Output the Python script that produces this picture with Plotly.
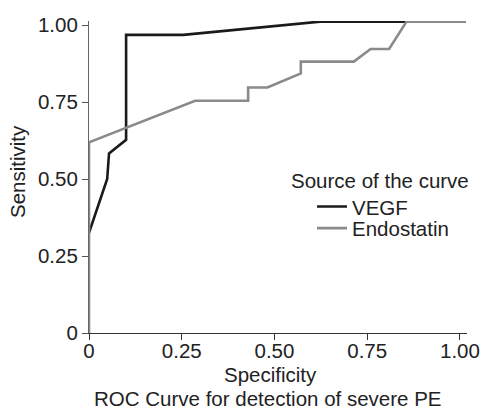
import plotly.graph_objects as go

# 1 - specificity / sensitivity
vegf_x = [0.0, 0.049, 0.054, 0.100, 0.100, 0.254, 0.623, 1.015]
vegf_y = [0.325, 0.500, 0.583, 0.627, 0.968, 0.968, 1.011, 1.011]

endo_x = [0.0, 0.0, 0.286, 0.429, 0.429, 0.481, 0.571, 0.571, 0.714, 0.759, 0.809, 0.856, 1.015]
endo_y = [0.0, 0.619, 0.754, 0.754, 0.797, 0.797, 0.843, 0.881, 0.881, 0.922, 0.922, 1.011, 1.011]

x_ticks = [0, 0.25, 0.5, 0.75, 1.0]
x_labels = ["0", "0.25", "0.50", "0.75", "1.00"]
y_ticks = [0, 0.25, 0.5, 0.75, 1.0]
y_labels = ["0", "0.25", "0.50", "0.75", "1.00"]

FONT = "Liberation Sans, Arial, Helvetica, sans-serif"
TXT = "#222222"
FS = 20.5

W, H = 483, 410
L, R, T, B = 89, 16, 21, 77
PW, PH = W - L - R, H - T - B


def px(xp):
    return (xp - L) / PW


def py(yp):
    return (H - B - yp) / PH


fig = go.Figure()
fig.add_trace(go.Scatter(x=vegf_x, y=vegf_y, mode="lines", name="VEGF",
                         line=dict(color="#1a1a1a", width=2.6), cliponaxis=False,
                         legend="legend"))
fig.add_trace(go.Scatter(x=endo_x, y=endo_y, mode="lines", name="Endostatin",
                         line=dict(color="#8a8a8a", width=2.6), cliponaxis=False,
                         legend="legend2"))

leg_common = dict(xanchor="left", yanchor="middle",
                  font=dict(family=FONT, size=FS, color=TXT),
                  bgcolor="rgba(0,0,0,0)")

fig.update_layout(
    width=W, height=H,
    margin=dict(l=L, r=R, t=T, b=B, autoexpand=False),
    paper_bgcolor="white", plot_bgcolor="white",
    font=dict(family=FONT, size=FS, color=TXT),
    showlegend=True,
    legend=dict(x=px(312), y=py(206.7), **leg_common),
    legend2=dict(x=px(312), y=py(228.3), **leg_common),
    xaxis=dict(range=[0, 1.019], tickvals=x_ticks, ticktext=x_labels,
               showgrid=False, zeroline=False, showline=True, linecolor="#333333",
               linewidth=1.2, ticks="outside", ticklen=6, tickcolor="#333333",
               automargin=False, ticklabelstandoff=-7,
               tickfont=dict(family=FONT, size=FS, color=TXT)),
    yaxis=dict(range=[0, 1.013], tickvals=y_ticks, ticktext=y_labels,
               showgrid=False, zeroline=False, showline=True, linecolor="#666666",
               linewidth=1.2, ticks="outside", ticklen=6, tickcolor="#555555",
               automargin=False,
               tickfont=dict(family=FONT, size=FS, color=TXT)),
)

fig.add_annotation(text="Specificity", xref="paper", yref="paper",
                   x=px(270), y=py(374), showarrow=False,
                   xanchor="center", yanchor="middle", font=dict(size=FS, color=TXT))
fig.add_annotation(text="ROC Curve for detection of severe PE", xref="paper", yref="paper",
                   x=px(268), y=py(398), showarrow=False,
                   xanchor="center", yanchor="middle", font=dict(size=FS, color=TXT))
fig.add_annotation(text="Sensitivity", xref="paper", yref="paper",
                   x=px(18), y=py(172), showarrow=False, textangle=-90,
                   xanchor="center", yanchor="middle", font=dict(size=FS, color=TXT))
fig.add_annotation(text="Source of the curve", xref="paper", yref="paper",
                   x=px(380), y=py(180), showarrow=False,
                   xanchor="center", yanchor="middle", font=dict(size=FS, color=TXT))

fig.write_html("out.html", config={"displayModeBar": False},
               post_script="document.body.style.margin='0';document.body.style.overflow='hidden';")
